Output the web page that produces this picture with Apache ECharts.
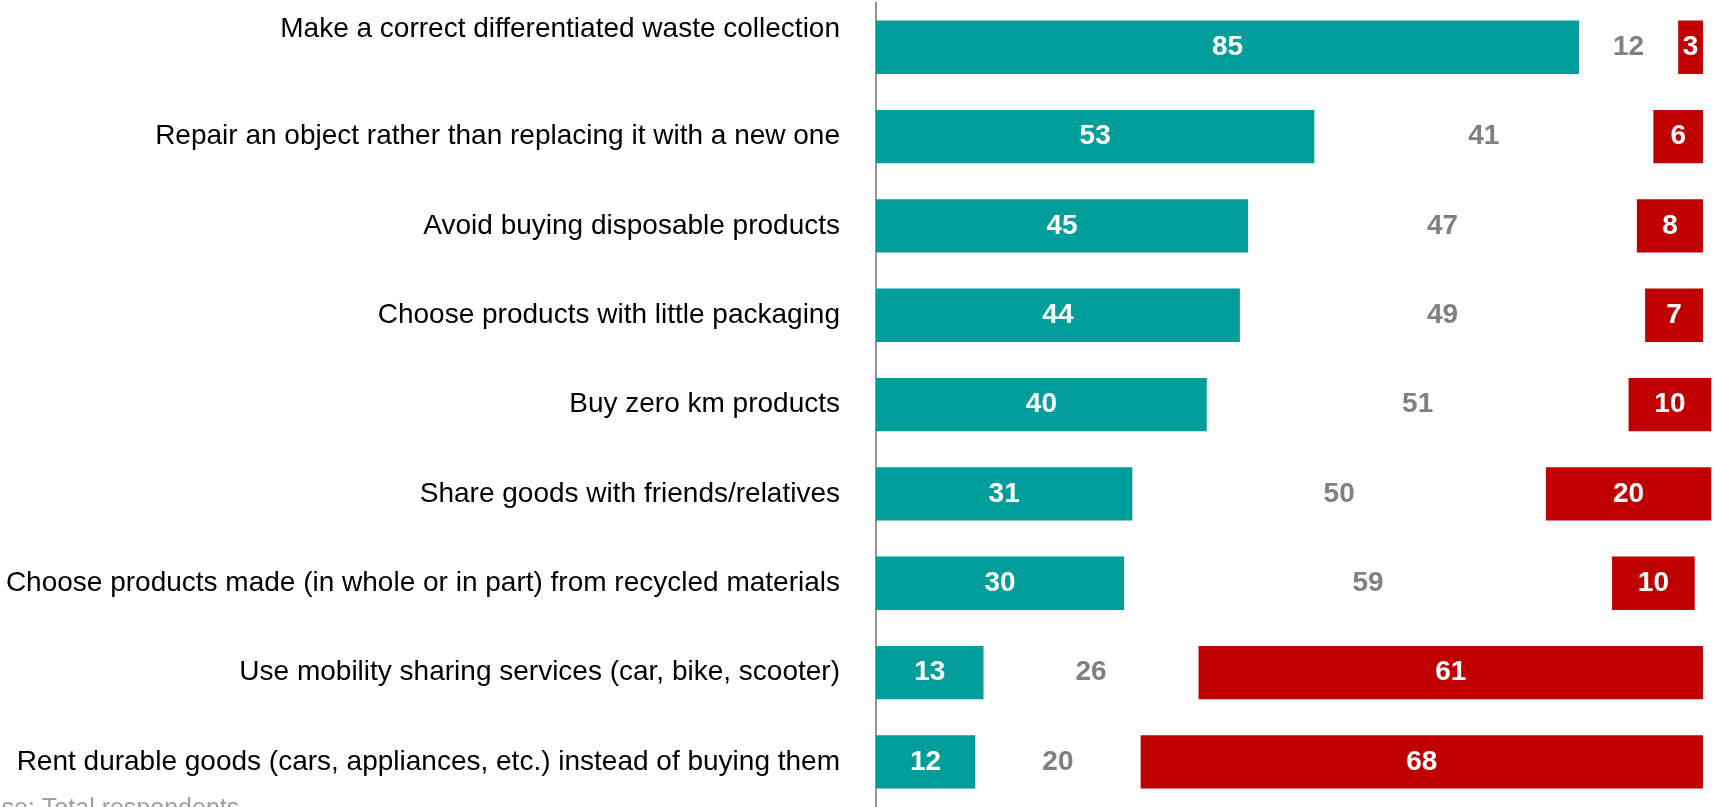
<!DOCTYPE html>
<html>
<head>
<meta charset="utf-8">
<script src="https://cdn.jsdelivr.net/npm/echarts@6/dist/echarts.min.js"></script>
<style>
html,body{margin:0;padding:0;background:#fff;}
#chart{width:1716px;height:807px;}
</style>
</head>
<body>
<div id="chart"></div>
<script>
const categories = [
  'Make a correct differentiated waste collection',
  'Repair an object rather than replacing it with a new one',
  'Avoid buying disposable products',
  'Choose products with little packaging',
  'Buy zero km products',
  'Share goods with friends/relatives',
  'Choose products made (in whole or in part) from recycled materials',
  'Use mobility sharing services (car, bike, scooter)',
  'Rent durable goods (cars, appliances, etc.) instead of buying them'
];
const seriesA = [85, 53, 45, 44, 40, 31, 30, 13, 12];
const seriesB = [12, 41, 47, 49, 51, 50, 59, 26, 20];
const seriesC = [3, 6, 8, 7, 10, 20, 10, 61, 68];
const footnote = 'Base: Total respondents';

const FONT = '"Liberation Sans", Arial, sans-serif';
const chart = echarts.init(document.getElementById('chart'), null, {renderer: 'canvas'});

const labelCommon = {
  show: true,
  position: 'inside',
  fontFamily: FONT,
  fontSize: 28,
  fontWeight: 'bold'
};

chart.setOption({
  animation: false,
  grid: {left: 876, right: 0, top: 2.6, height: 804, containLabel: false},
  xAxis: {
    type: 'value', min: 0, max: 101.57, show: false
  },
  yAxis: {
    type: 'category',
    inverse: true,
    data: categories,
    axisLine: {show: true, lineStyle: {color: '#808080', width: 1.7}},
    axisTick: {show: false},
    axisLabel: {
      margin: 36,
      color: '#000',
      fontFamily: FONT,
      fontSize: 28,
      formatter: function (v, i) {
        return i === 0 ? '{up|' + v + '}' : '{n|' + v + '}';
      },
      rich: {
        up: {fontFamily: FONT, fontSize: 28, color: '#000', padding: [0, 0, 35, 0]},
        n: {fontFamily: FONT, fontSize: 28, color: '#000'}
      }
    }
  },
  series: [
    {
      type: 'bar', stack: 'all', data: seriesA, barWidth: 53.3,
      itemStyle: {color: '#009E9A'},
      label: Object.assign({}, labelCommon, {color: '#fff'})
    },
    {
      type: 'bar', stack: 'all', data: seriesB, barWidth: 53.3,
      itemStyle: {color: 'rgba(0,0,0,0)'},
      label: Object.assign({}, labelCommon, {color: '#808080'})
    },
    {
      type: 'bar', stack: 'all', data: seriesC, barWidth: 53.3,
      itemStyle: {color: '#C00000'},
      label: Object.assign({}, labelCommon, {color: '#fff'})
    }
  ],
  graphic: [{
    type: 'text',
    left: -29,
    top: 797,
    style: {
      text: footnote,
      fontFamily: FONT,
      fontSize: 25,
      fill: '#A0A0A0'
    }
  }]
});
</script>
</body>
</html>
